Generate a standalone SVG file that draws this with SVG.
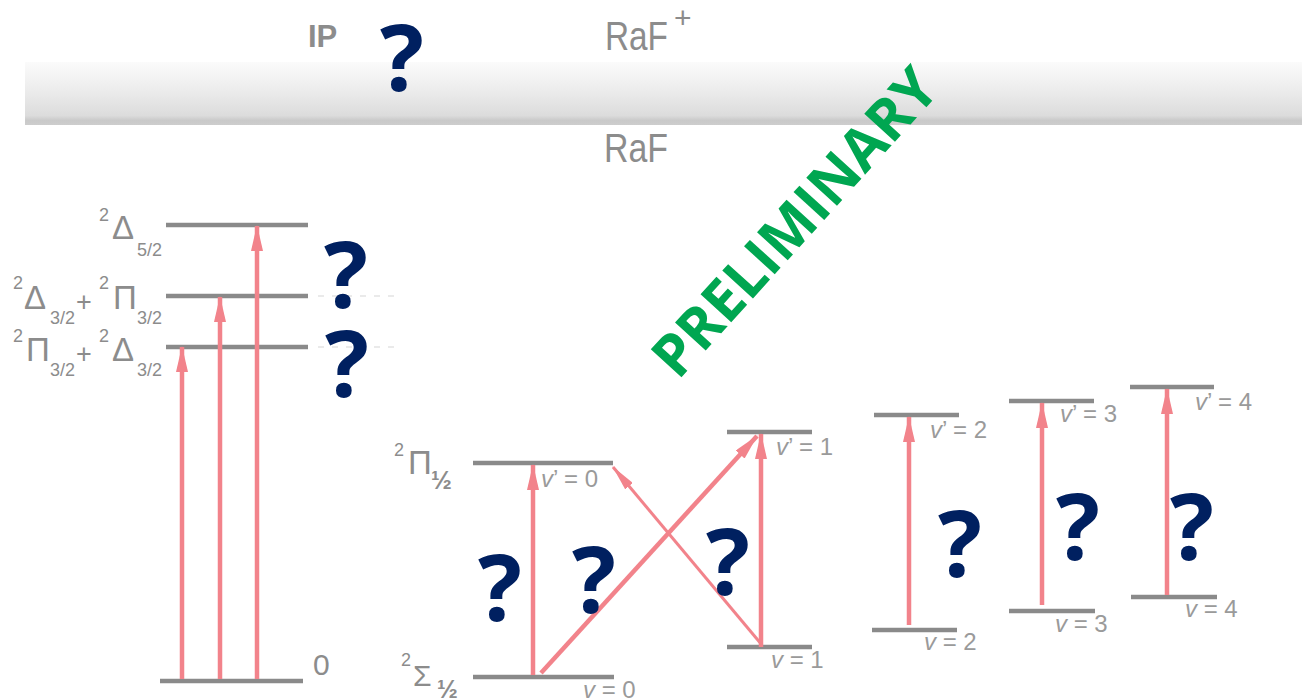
<svg xmlns="http://www.w3.org/2000/svg" width="1302" height="700" viewBox="0 0 1302 700">
<defs>
<linearGradient id="band" x1="0" y1="0" x2="0" y2="1">
<stop offset="0" stop-color="#fbfbfb"/>
<stop offset="0.45" stop-color="#ececec"/>
<stop offset="0.85" stop-color="#dcdcdc"/>
<stop offset="0.93" stop-color="#c9c9c9"/>
<stop offset="1" stop-color="#cdcdcd"/>
</linearGradient>
<marker id="ah" viewBox="0 0 26 12" refX="25" refY="6" markerWidth="26" markerHeight="12" markerUnits="userSpaceOnUse" orient="auto">
<path d="M0,0 L26,6 L0,12 z" fill="#f2838b"/>
</marker>
<marker id="ahs" viewBox="0 0 26 10" refX="25" refY="5" markerWidth="26" markerHeight="10" markerUnits="userSpaceOnUse" orient="auto">
<path d="M0,0 L26,5 L0,10 z" fill="#f2838b"/>
</marker>
</defs>
<style>
.lvl{stroke:#8a8a8a;stroke-width:4.5;fill:none}
.arr{stroke:#f2838b;stroke-width:4.5;fill:none;marker-end:url(#ah)}
.arrt{stroke:#f2838b;stroke-width:3;fill:none;marker-end:url(#ahs)}
.g{font-family:"Liberation Sans",Arial,sans-serif;fill:#8c8c8c}
.big{font-size:33px}
.sup{font-size:18px}
.sub{font-size:18px}
.plus{font-size:27px}
.v{font-family:"Liberation Sans",Arial,sans-serif;fill:#9a9a9a;font-size:24px}
.q{font-family:"Open Sans","Lato",sans-serif;font-weight:bold;font-size:92px;fill:#002060;text-anchor:middle}
.faint{stroke:#e4e4e4;stroke-width:1.5;stroke-dasharray:6 8}
</style>

<rect id="ionband" x="25" y="62" width="1277" height="63" fill="url(#band)"/>

<g id="ip">
<text class="g" x="308" y="47" font-size="31" font-weight="bold">IP</text>
<text class="q" x="402" y="91">?</text>
</g>
<g id="raf-ion">
<text class="g" x="605" y="50" font-size="41" textLength="63" lengthAdjust="spacingAndGlyphs">RaF</text>
<text class="g" x="674" y="28" font-size="30">+</text>
</g>
<g id="raf-neutral">
<text class="g" x="604" y="162" font-size="41" textLength="64" lengthAdjust="spacingAndGlyphs">RaF</text>
</g>

<text x="678" y="381" transform="rotate(-47.8 678 381)" font-family="Open Sans, sans-serif" font-weight="bold" font-size="58" fill="#00a651" textLength="392" lengthAdjust="spacingAndGlyphs">PRELIMINARY</text>

<line class="faint" x1="318" y1="296" x2="396" y2="296"/>
<line class="faint" x1="318" y1="347" x2="396" y2="347"/>

<g id="D52">
<line class="lvl" x1="166" y1="225" x2="308" y2="225"/>
<text class="g sup" x="99" y="221">2</text>
<text class="g big" x="112" y="239">Δ</text>
<text class="g sub" x="137" y="256">5/2</text>
</g>
<g id="D32P32">
<line class="lvl" x1="166" y1="296" x2="308" y2="296"/>
<text class="g sup" x="13" y="289">2</text>
<text class="g big" x="24" y="309">Δ</text>
<text class="g sub" x="50" y="324">3/2</text>
<text class="g plus" x="76" y="311">+</text>
<text class="g sup" x="99" y="289">2</text>
<text class="g big" x="113" y="309">Π</text>
<text class="g sub" x="137" y="324">3/2</text>
</g>
<g id="P32D32">
<line class="lvl" x1="166" y1="347" x2="308" y2="347"/>
<text class="g sup" x="13" y="342">2</text>
<text class="g big" x="26" y="361">Π</text>
<text class="g sub" x="50" y="376">3/2</text>
<text class="g plus" x="76" y="363">+</text>
<text class="g sup" x="99" y="342">2</text>
<text class="g big" x="112" y="361">Δ</text>
<text class="g sub" x="137" y="376">3/2</text>
</g>
<g id="X0">
<line class="lvl" x1="160" y1="681" x2="303" y2="681"/>
<text class="g" x="313" y="675" font-size="30">0</text>
</g>

<g id="P12v0">
<line class="lvl" x1="473" y1="463" x2="613" y2="463"/>
<text class="g sup" x="394" y="456">2</text>
<text class="g big" x="408" y="474">Π</text>
<text class="g" x="431" y="489" font-size="25" font-weight="bold">½</text>
<text class="v" x="541" y="487"><tspan font-style="italic">v</tspan>’ = 0</text>
</g>
<g id="S12v0">
<line class="lvl" x1="473" y1="677" x2="614" y2="677"/>
<text class="g sup" x="401" y="666">2</text>
<text class="g" x="413" y="686" font-size="30">Σ</text>
<text class="g" x="437" y="698" font-size="25" font-weight="bold">½</text>
<text class="v" x="583" y="698"><tspan font-style="italic">v</tspan> = 0</text>
</g>
<g id="Pv1">
<line class="lvl" x1="727" y1="432" x2="812" y2="432"/>
<text class="v" x="776" y="455"><tspan font-style="italic">v</tspan>’ = 1</text>
</g>
<g id="Sv1">
<line class="lvl" x1="727" y1="647" x2="812" y2="647"/>
<text class="v" x="771" y="668"><tspan font-style="italic">v</tspan> = 1</text>
</g>
<g id="Pv2">
<line class="lvl" x1="874" y1="415" x2="959" y2="415"/>
<text class="v" x="930" y="438"><tspan font-style="italic">v</tspan>’ = 2</text>
</g>
<g id="Sv2">
<line class="lvl" x1="872" y1="630" x2="957" y2="630"/>
<text class="v" x="924" y="650"><tspan font-style="italic">v</tspan> = 2</text>
</g>
<g id="Pv3">
<line class="lvl" x1="1009" y1="401" x2="1094" y2="401"/>
<text class="v" x="1060" y="422"><tspan font-style="italic">v</tspan>’ = 3</text>
</g>
<g id="Sv3">
<line class="lvl" x1="1009" y1="611" x2="1095" y2="611"/>
<text class="v" x="1055" y="632"><tspan font-style="italic">v</tspan> = 3</text>
</g>
<g id="Pv4">
<line class="lvl" x1="1130" y1="387" x2="1214" y2="387"/>
<text class="v" x="1195" y="410"><tspan font-style="italic">v</tspan>’ = 4</text>
</g>
<g id="Sv4">
<line class="lvl" x1="1131" y1="597" x2="1217" y2="597"/>
<text class="v" x="1185" y="617"><tspan font-style="italic">v</tspan> = 4</text>
</g>

<g id="connectors">
<line class="arr" x1="182" y1="679" x2="182" y2="347"/>
<line class="arr" x1="220" y1="679" x2="220" y2="297"/>
<line class="arr" x1="257" y1="679" x2="257" y2="226"/>
<line class="arr" x1="533" y1="675" x2="533" y2="465"/>
<line class="arr" x1="541" y1="673" x2="757" y2="436"/>
<line class="arrt" x1="762" y1="645" x2="613" y2="467"/>
<line class="arr" x1="761" y1="647" x2="761" y2="434"/>
<line class="arr" x1="909" y1="625" x2="909" y2="417"/>
<line class="arr" x1="1042" y1="605" x2="1042" y2="403"/>
<line class="arr" x1="1167" y1="595" x2="1167" y2="389"/>
</g>

<g id="questions">
<text class="q" x="346" y="308">?</text>
<text class="q" x="347" y="397">?</text>
<text class="q" x="500" y="621">?</text>
<text class="q" x="594" y="613">?</text>
<text class="q" x="728" y="595">?</text>
<text class="q" x="960" y="577">?</text>
<text class="q" x="1078" y="560">?</text>
<text class="q" x="1192" y="560">?</text>
</g>
</svg>
